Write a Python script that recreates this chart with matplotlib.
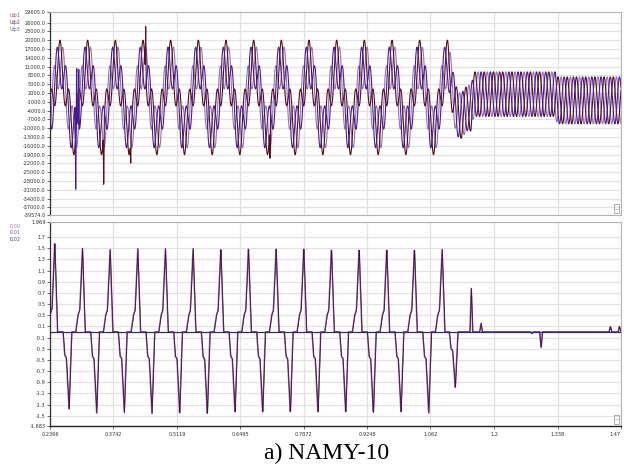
import numpy as np
import matplotlib.pyplot as plt
from matplotlib.patches import Rectangle

# time axis ticks (s)
x_ticks = [0.2366, 0.3742, 0.5119, 0.6495, 0.7872, 0.9248, 1.062, 1.2, 1.338, 1.4755]
x_labels = ['0.2366', '0.3742', '0.5119', '0.6495', '0.7872', '0.9248', '1.062', '1.2', '1.338', '1.47']
t_start, t_end = 0.2366, 1.4755

# phase voltages: crest times of the 16.7 Hz component and envelope knots
u_names = ['Uф1', 'Uф2', 'Uф3']
u_colors = ['#55101e', '#9274b6', '#4a1a94']
u_text_colors = ['#8a5a6a', '#6a3a5a', '#7a5ab0']
crest_first = 0.2583
crest_period = 0.06003
slow_knots_t = [0.2366, 1.100, 1.115, 1.150, 1.4755]
slow_knots_a = [11600, 11600, 6000, 0, 0]
fast_knots_t = [0.2366, 1.100, 1.156, 1.333, 1.337, 1.4755]
fast_knots_a = [7900, 7900, 7600, 7600, 8000, 8000]
offset_knots_t = [0.2366, 1.100, 1.128, 1.150, 1.156, 1.333, 1.337, 1.4755]
offset_knots_v = [500, 500, -2000, -3500, 1600, 1600, -500, -500]

# short spikes on the voltage traces: (time, value, phase)
u_spikes = [
    (0.2924, -36460, 2),
    (0.2945, 11600, 2),
    (0.2990, 10000, 2),
    (0.3532, -32800, 0),
    (0.4118, -21900, 0),
    (0.4443, 26130, 0),
    (0.7140, -22500, 0),
]

# currents: pulse peak times and values
i_names = ['I100', 'I101', 'I102']
i_text_colors = ['#9a7ab0', '#8a5a9a', '#4a4a8a']
pos_peak_t = [0.2468, 0.3069, 0.3669, 0.4270, 0.4870, 0.5470, 0.6071, 0.6671,
              0.7271, 0.7871, 0.8472, 0.9072, 0.9672, 1.0272, 1.0873]
pos_peak_v = [1.62, 1.52, 1.50, 1.49, 1.49, 1.49, 1.49, 1.50, 1.50, 1.50,
              1.50, 1.50, 1.50, 1.50, 1.50]
neg_peak_t = [0.2779, 0.3378, 0.3978, 0.4578, 0.5179, 0.5779, 0.6380, 0.6980,
              0.7580, 0.8180, 0.8781, 0.9381, 0.9981, 1.0582, 1.1159]
neg_peak_v = [-1.39, -1.45, -1.44, -1.46, -1.46, -1.47, -1.46, -1.46, -1.46,
              -1.46, -1.45, -1.46, -1.45, -1.45, -1.00]
small_peak_t = [1.1506, 1.1717, 1.2824, 1.3020, 1.4524, 1.4719]
small_peak_v = [0.78, 0.16, -0.03, -0.29, 0.10, 0.10]

# pulse outlines (offset from peak in s, fraction of peak)
pos_shape_dt = [-0.0146, -0.0096, -0.0059, 0.0, 0.0061]
pos_shape_f = [0.0, 0.20, 0.26, 1.0, 0.0]
neg_shape_dt = [-0.0130, -0.0093, -0.0059, 0.0, 0.0059]
neg_shape_f = [0.0, 0.30, 0.33, 1.0, 0.0]
small_shape_dt = [-0.0030, 0.0, 0.0030]
small_shape_f = [0.0, 1.0, 0.0]

t = np.arange(t_start, t_end, 0.0004)


def add_pulses(sig, peaks_t, peaks_v, shape_dt, shape_f):
    for pt, pv in zip(peaks_t, peaks_v):
        sig += pv * np.interp(t - pt, shape_dt, shape_f, left=0, right=0)
    return sig


cur = np.zeros_like(t)
cur = add_pulses(cur, pos_peak_t, pos_peak_v, pos_shape_dt, pos_shape_f)
cur = add_pulses(cur, neg_peak_t, neg_peak_v, neg_shape_dt, neg_shape_f)
cur = add_pulses(cur, small_peak_t, small_peak_v, small_shape_dt, small_shape_f)

theta = 2 * np.pi * (t - crest_first) / crest_period
a_slow = np.interp(t, slow_knots_t, slow_knots_a)
a_fast = np.interp(t, fast_knots_t, fast_knots_a)
offset = np.interp(t, offset_knots_t, offset_knots_v)
volts = []
for k in range(3):
    v = offset + a_slow * np.cos(theta) + a_fast * np.cos(3 * theta - 2 * np.pi * k / 3)
    volts.append(v)
for st, sv, k in u_spikes:
    tri = np.interp(t - st, [-0.0012, 0.0, 0.0012], [0, 1, 0], left=0, right=0)
    i0 = np.argmin(np.abs(t - st))
    volts[k] = volts[k] + (sv - volts[k][i0]) * tri

fig = plt.figure(figsize=(6.24, 4.66), dpi=100)
ax1 = fig.add_axes([50 / 624, 1 - 215 / 466, 571 / 624, 203 / 466])
ax2 = fig.add_axes([50 / 624, 1 - 426 / 466, 571 / 624, 204 / 466])

grid_c = '#e2e2e2'
frame_c = '#b4b4b4'


def style_axes(ax, yticks, ylabels, ylim):
    ax.set_xlim(t_start, t_end)
    ax.set_ylim(*ylim)
    ax.set_yticks(yticks)
    ax.set_yticklabels(ylabels)
    ax.set_xticks(x_ticks)
    ax.grid(True, color=grid_c, lw=0.9)
    ax.set_axisbelow(True)
    for side in ['top', 'right', 'bottom']:
        ax.spines[side].set_color(frame_c)
        ax.spines[side].set_linewidth(0.8)
    ax.spines['left'].set_color('#303030')
    ax.spines['left'].set_linewidth(0.9)
    ax.tick_params(axis='y', labelsize=3.6, length=2, width=0.5,
                   colors='#303030', pad=1)
    ax.tick_params(axis='x', labelsize=3.6, length=2, width=0.5,
                   colors='#303030', pad=2)
    # small box in the lower right corner
    ax.add_patch(Rectangle((0.988, 0.012), 0.009, 0.04, transform=ax.transAxes,
                           fill=False, ec='#909090', lw=0.5))
    ax.plot([0.990, 0.995], [0.032, 0.032], transform=ax.transAxes,
            color='#909090', lw=0.4)


u_ticks = [29605] + list(range(26000, -37001, -3000)) + [-39574]
u_labels = ['%.1f' % v for v in u_ticks]
style_axes(ax1, u_ticks, u_labels, (-39574, 29605))
ax1.tick_params(axis='x', length=0, labelbottom=False)

for k in [1, 0, 2]:
    ax1.plot(t, volts[k], color=u_colors[k], lw=0.8)

i_ticks = [1.969] + [round(1.7 - 0.2 * i, 1) for i in range(17)] + [-1.683]
i_labels = ['1.969'] + ['%g' % v for v in i_ticks[1:-1]] + ['-1.683']
style_axes(ax2, i_ticks, i_labels, (-1.683, 1.969))
ax2.spines['bottom'].set_color('#202020')
ax2.spines['bottom'].set_linewidth(1.0)
ax2.set_xticklabels(x_labels)
ax2.get_xticklabels()[-1].set_horizontalalignment('right')

ax2.plot(t, cur, color='#8e6e98', lw=1.1)
ax2.plot(t + 0.0004, cur, color='#4a0e4e', lw=0.6)
ax2.axhline(0, color='#2e2e6e', lw=0.9)

for i, (name, c) in enumerate(zip(u_names, u_text_colors)):
    fig.text(10 / 624, 1 - (15.7 + 6.8 * i) / 466, name, fontsize=3.6,
             color=c, va='center', ha='left')
for i, (name, c) in enumerate(zip(i_names, i_text_colors)):
    fig.text(10 / 624, 1 - (226 + 6.5 * i) / 466, name, fontsize=3.6,
             color=c, va='center', ha='left')

fig.text(326.5 / 624, 1 - 453 / 466, 'a) NAMY-10', fontsize=17,
         family='Liberation Serif', ha='center', va='center')

fig.savefig('out.png', dpi=100)
